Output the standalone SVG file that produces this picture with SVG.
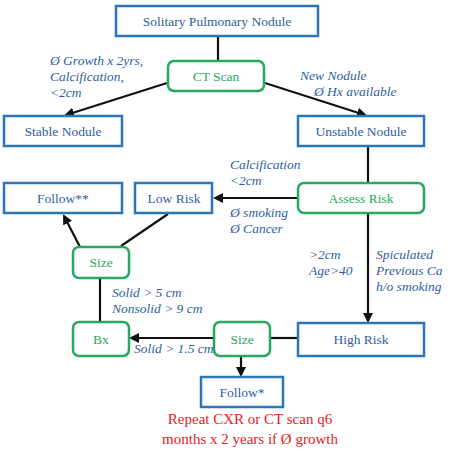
<svg xmlns="http://www.w3.org/2000/svg" width="451" height="453" viewBox="0 0 451 453">
<style>
.b{fill:#fff;stroke:#2e75b6;stroke-width:2.5}
.g{fill:#fff;stroke:#2aa860;stroke-width:2.5}
.tb{font-family:"Liberation Serif","Times New Roman",serif;font-size:13.5px;fill:#2f5f9e;text-anchor:middle}
.tg{font-family:"Liberation Serif","Times New Roman",serif;font-size:13.5px;fill:#2aa860;text-anchor:middle}
.lbl{font-family:"Liberation Serif","Times New Roman",serif;font-size:13.5px;font-style:italic;fill:#2f5f9e}
.red{font-family:"Liberation Serif","Times New Roman",serif;font-size:15px;fill:#e8202a;text-anchor:middle}
.c{stroke:#111;stroke-width:2.2;fill:none}
</style>
<defs>
<marker id="ah" markerWidth="10" markerHeight="10" refX="8" refY="5" orient="auto" markerUnits="userSpaceOnUse">
<path d="M0,0 L10,5 L0,10 z" fill="#111"/>
</marker>
</defs>
<rect width="451" height="453" fill="#fff"/>
<g id="connectors">
<line class="c" x1="218" y1="36" x2="218" y2="61"/>
<line class="c" x1="167" y1="83" x2="66" y2="115" marker-end="url(#ah)"/>
<line class="c" x1="265" y1="83" x2="365" y2="115" marker-end="url(#ah)"/>
<line class="c" x1="368" y1="146" x2="368" y2="183"/>
<line class="c" x1="368" y1="213" x2="368" y2="321" marker-end="url(#ah)"/>
<line class="c" x1="298" y1="198" x2="215" y2="198" marker-end="url(#ah)"/>
<line class="c" x1="168" y1="214" x2="121" y2="246"/>
<line class="c" x1="80" y1="247" x2="64" y2="216" marker-end="url(#ah)"/>
<line class="c" x1="100" y1="278" x2="100" y2="322"/>
<line class="c" x1="298" y1="338" x2="270" y2="338"/>
<line class="c" x1="213" y1="338" x2="131" y2="338" marker-end="url(#ah)"/>
<line class="c" x1="241" y1="356" x2="241" y2="375" marker-end="url(#ah)"/>
</g>
<g id="spn"><rect class="b" x="116" y="6" width="202" height="30"/><text class="tb" x="217" y="26">Solitary Pulmonary Nodule</text></g>
<g id="ct"><rect class="g" x="168" y="61" width="96" height="30" rx="6"/><text class="tg" x="216" y="81">CT Scan</text></g>
<g id="stable"><rect class="b" x="4" y="116" width="118" height="30"/><text class="tb" x="63" y="136">Stable Nodule</text></g>
<g id="unstable"><rect class="b" x="298" y="116" width="126" height="30"/><text class="tb" x="361" y="136">Unstable Nodule</text></g>
<g id="assess"><rect class="g" x="298" y="183" width="126" height="30" rx="6"/><text class="tg" x="361" y="203">Assess Risk</text></g>
<g id="lowrisk"><rect class="b" x="135" y="183" width="77" height="30"/><text class="tb" x="174" y="203">Low Risk</text></g>
<g id="follow2"><rect class="b" x="4" y="183" width="118" height="30"/><text class="tb" x="63" y="203">Follow**</text></g>
<g id="size1"><rect class="g" x="73" y="247" width="56" height="31" rx="6"/><text class="tg" x="101" y="267">Size</text></g>
<g id="bx"><rect class="g" x="73" y="322" width="56" height="34" rx="6"/><text class="tg" x="101" y="344">Bx</text></g>
<g id="size2"><rect class="g" x="214" y="322" width="56" height="34" rx="6"/><text class="tg" x="242" y="344">Size</text></g>
<g id="highrisk"><rect class="b" x="298" y="323" width="126" height="33"/><text class="tb" x="361" y="344">High Risk</text></g>
<g id="follow1"><rect class="b" x="201" y="377" width="82" height="30"/><text class="tb" x="242" y="397">Follow*</text></g>
<g id="labels">
<text class="lbl" x="50" y="65">Ø Growth x 2yrs,</text>
<text class="lbl" x="50" y="81">Calcification,</text>
<text class="lbl" x="50" y="97">&lt;2cm</text>
<text class="lbl" x="300" y="80">New Nodule</text>
<text class="lbl" x="314" y="96">Ø Hx available</text>
<text class="lbl" x="230" y="169">Calcification</text>
<text class="lbl" x="230" y="185">&lt;2cm</text>
<text class="lbl" x="230" y="217">Ø smoking</text>
<text class="lbl" x="230" y="233">Ø Cancer</text>
<text class="lbl" x="309" y="259">&gt;2cm</text>
<text class="lbl" x="309" y="275">Age&gt;40</text>
<text class="lbl" x="376" y="259">Spiculated</text>
<text class="lbl" x="376" y="275">Previous Ca</text>
<text class="lbl" x="376" y="291">h/o smoking</text>
<text class="lbl" x="112" y="297">Solid &gt; 5 cm</text>
<text class="lbl" x="112" y="313">Nonsolid &gt; 9 cm</text>
<text class="lbl" x="134" y="353">Solid &gt; 1.5 cm</text>
<text class="red" x="250" y="424">Repeat CXR or CT scan q6</text>
<text class="red" x="250" y="444">months x 2 years if Ø growth</text>
</g>
</svg>
